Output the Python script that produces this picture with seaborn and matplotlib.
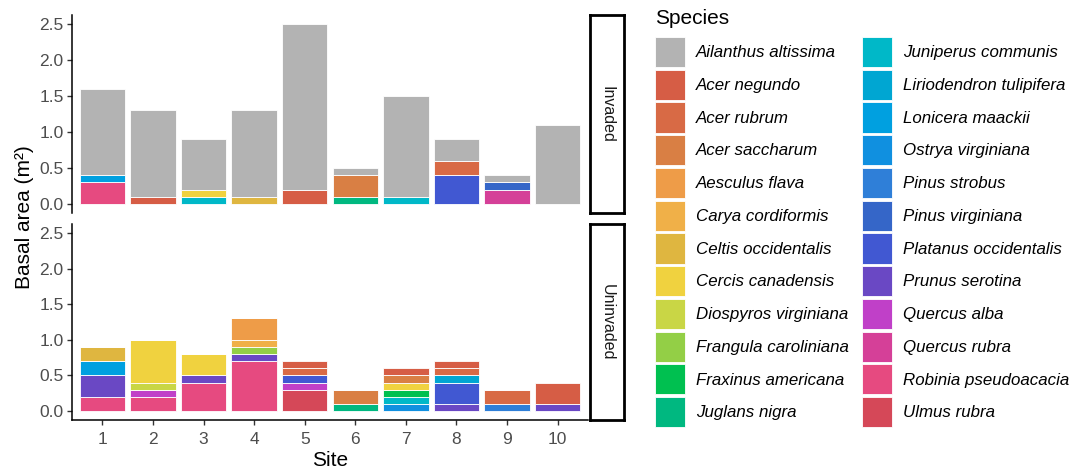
import pandas as pd
import numpy as np
import matplotlib
matplotlib.use("Agg")
import matplotlib.pyplot as plt
from matplotlib.patches import Patch
import seaborn as sns

species = ['Ailanthus altissima', 'Acer negundo', 'Acer rubrum', 'Acer saccharum',
           'Aesculus flava', 'Carya cordiformis', 'Celtis occidentalis', 'Cercis canadensis',
           'Diospyros virginiana', 'Frangula caroliniana', 'Fraxinus americana', 'Juglans nigra',
           'Juniperus communis', 'Liriodendron tulipifera', 'Lonicera maackii', 'Ostrya virginiana',
           'Pinus strobus', 'Pinus virginiana', 'Platanus occidentalis', 'Prunus serotina',
           'Quercus alba', 'Quercus rubra', 'Robinia pseudoacacia', 'Ulmus rubra']
colori = ['#B3B3B3', '#D65D45', '#D86A45', '#D97F44',
          '#EE9C48', '#F0B048', '#DFB640', '#F0D23F',
          '#C9D645', '#93CF46', '#00C050', '#00B880',
          '#00B8C8', '#00A6D2', '#00A0E0', '#1090E0',
          '#2F7FD8', '#3566C8', '#4158D2', '#6A48C4',
          '#C040C8', '#D54098', '#E64A80', '#D54858']

# Invaded
inv_site = [1, 1, 1,
            2, 2,
            3, 3, 3,
            4, 4,
            5, 5,
            6, 6, 6,
            7, 7,
            8, 8, 8,
            9, 9, 9,
            10]
inv_species = ['Robinia pseudoacacia', 'Lonicera maackii', 'Ailanthus altissima',
               'Acer negundo', 'Ailanthus altissima',
               'Juniperus communis', 'Cercis canadensis', 'Ailanthus altissima',
               'Celtis occidentalis', 'Ailanthus altissima',
               'Acer negundo', 'Ailanthus altissima',
               'Juglans nigra', 'Acer saccharum', 'Ailanthus altissima',
               'Juniperus communis', 'Ailanthus altissima',
               'Platanus occidentalis', 'Acer rubrum', 'Ailanthus altissima',
               'Quercus rubra', 'Pinus virginiana', 'Ailanthus altissima',
               'Ailanthus altissima']
inv_area = [0.3, 0.1, 1.2,
            0.1, 1.2,
            0.1, 0.1, 0.7,
            0.1, 1.2,
            0.2, 2.3,
            0.1, 0.3, 0.1,
            0.1, 1.4,
            0.4, 0.2, 0.3,
            0.2, 0.1, 0.1,
            1.1]

# Uninvaded
uni_site = [1, 1, 1, 1,
            2, 2, 2, 2,
            3, 3, 3,
            4, 4, 4, 4, 4,
            5, 5, 5, 5, 5,
            6, 6,
            7, 7, 7, 7, 7, 7,
            8, 8, 8, 8, 8,
            9, 9,
            10, 10]
uni_species = ['Robinia pseudoacacia', 'Prunus serotina', 'Lonicera maackii', 'Celtis occidentalis',
               'Robinia pseudoacacia', 'Quercus alba', 'Diospyros virginiana', 'Cercis canadensis',
               'Robinia pseudoacacia', 'Prunus serotina', 'Cercis canadensis',
               'Robinia pseudoacacia', 'Prunus serotina', 'Frangula caroliniana', 'Carya cordiformis', 'Aesculus flava',
               'Ulmus rubra', 'Quercus alba', 'Platanus occidentalis', 'Acer rubrum', 'Acer negundo',
               'Juglans nigra', 'Acer saccharum',
               'Ostrya virginiana', 'Juniperus communis', 'Fraxinus americana', 'Cercis canadensis', 'Acer saccharum', 'Acer negundo',
               'Prunus serotina', 'Platanus occidentalis', 'Liriodendron tulipifera', 'Acer rubrum', 'Acer negundo',
               'Pinus strobus', 'Acer rubrum',
               'Prunus serotina', 'Acer negundo']
uni_area = [0.2, 0.3, 0.2, 0.2,
            0.2, 0.1, 0.1, 0.6,
            0.4, 0.1, 0.3,
            0.7, 0.1, 0.1, 0.1, 0.3,
            0.3, 0.1, 0.1, 0.1, 0.1,
            0.1, 0.2,
            0.1, 0.1, 0.1, 0.1, 0.1, 0.1,
            0.1, 0.3, 0.1, 0.1, 0.1,
            0.1, 0.2,
            0.1, 0.3]

pannelli = ['Invaded', 'Uninvaded']
palette = dict(zip(species, colori))

df_inv = pd.DataFrame({'Site': inv_site, 'Species': inv_species, 'Area': inv_area})
df_uni = pd.DataFrame({'Site': uni_site, 'Species': uni_species, 'Area': uni_area})

sns.set_style('white')
plt.rcParams['font.family'] = ['Liberation Sans', 'DejaVu Sans']
plt.rcParams['text.color'] = 'black'

W, H = 1072, 470
fig = plt.figure(figsize=(W / 100, H / 100), dpi=100)

def box(x0, y0, x1, y1):
    return [x0 / W, 1 - y1 / H, (x1 - x0) / W, (y1 - y0) / H]

ax_top = fig.add_axes(box(72, 15, 588, 213))
ax_bot = fig.add_axes(box(72, 224, 588, 420))

for ax, df, nome in zip([ax_top, ax_bot], [df_inv, df_uni], pannelli):
    presenti = [s for s in species if s in set(df['Species'])]
    sns.histplot(data=df, x='Site', weights='Area', hue='Species', hue_order=presenti,
                 palette=palette, multiple='stack', discrete=True, shrink=0.9,
                 edgecolor='white', linewidth=0.6, alpha=1, legend=False, ax=ax)
    ax.set_xlim(0.4, 10.6)
    ax.set_ylim(-0.125, 2.625)
    ax.set_yticks([0, 0.5, 1.0, 1.5, 2.0, 2.5])
    ax.set_yticklabels(['0.0', '0.5', '1.0', '1.5', '2.0', '2.5'])
    ax.set_xticks(range(1, 11))
    ax.set_ylabel('')
    ax.set_xlabel('')
    ax.tick_params(axis='both', colors='#333333', labelcolor='#4D4D4D', labelsize=12.5,
                   length=3.5, width=1, direction='out', left=True, bottom=True, pad=2.5)
    for lato in ['top', 'right']:
        ax.spines[lato].set_visible(False)
    for lato in ['left', 'bottom']:
        ax.spines[lato].set_color('black')
        ax.spines[lato].set_linewidth(1.1)

    # strip a destra
    pos = ax.get_position()
    sx = fig.add_axes([590 / W, pos.y0, 34 / W, pos.height])
    sx.set_xticks([])
    sx.set_yticks([])
    for sp in sx.spines.values():
        sp.set_color('black')
        sp.set_linewidth(2)
    sx.text(0.5, 0.5, nome, rotation=270, ha='center', va='center', fontsize=11.5,
            color='#1A1A1A', transform=sx.transAxes)

ax_top.spines['bottom'].set_visible(False)
ax_top.tick_params(axis='x', bottom=False, labelbottom=False)
ax_bot.tick_params(axis='x', pad=5)

fig.text(25 / W, 1 - 217 / H, 'Basal area (m²)', rotation=90, ha='center', va='center', fontsize=15)
fig.text(330 / W, 1 - 460 / H, 'Site', ha='center', va='center', fontsize=15)

# legenda
fig.text(655 / W, 1 - 18 / H, 'Species', ha='left', va='center', fontsize=15)
maniglie = [Patch(facecolor=palette[s], edgecolor='white', linewidth=0.6) for s in species]
leg = fig.legend(maniglie, species, loc='upper left', bbox_to_anchor=(655 / W, 1 - 37 / H),
                 ncol=2, frameon=False, labelcolor='black',
                 prop={'style': 'italic', 'size': 12.2}, handlelength=1.77, handleheight=2.35,
                 labelspacing=0.16, handletextpad=0.65, columnspacing=0.75,
                 borderpad=0, borderaxespad=0)

fig.savefig('out.png', dpi=100)
